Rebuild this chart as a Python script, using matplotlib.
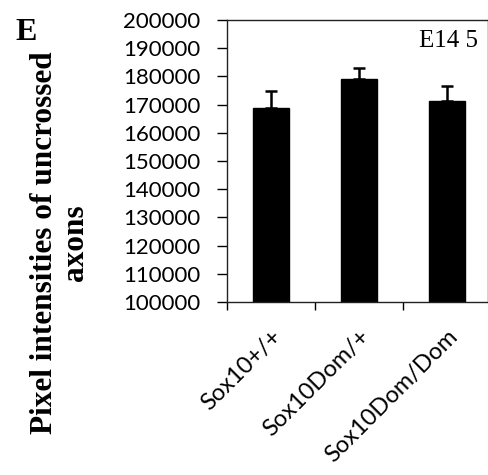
import matplotlib
matplotlib.use("Agg")
import matplotlib.pyplot as plt

# Pixel intensities of uncrossed axons at E14.5 by genotype
genotypes = ["Sox10+/+", "Sox10Dom/+", "Sox10Dom/Dom"]
means = [168900, 179100, 171400]
upper_err = [6000, 3900, 5200]
y_ticks = list(range(100000, 200001, 10000))

fig = plt.figure(figsize=(4.89, 4.75), dpi=100)
ax = fig.add_axes([227 / 489, 1 - 302 / 475, 261 / 489, 282 / 475])

x = list(range(len(genotypes)))
ax.bar(x, means, width=0.41, color="black", edgecolor="black", zorder=2)
ax.errorbar(x, means, yerr=[[0] * len(means), upper_err], fmt="none",
            ecolor="black", elinewidth=1.8, capsize=4, capthick=1.8, zorder=3)

ax.set_xlim(-0.5, 2.47)
ax.set_ylim(100000, 200000)
ax.set_yticks(y_ticks)
ax.set_yticklabels([str(v) for v in y_ticks], family="Lato", fontsize=16)

# category boundary ticks on the x axis, labels under each bar
ax.set_xticks([-0.5, 0.5, 1.5], minor=False)
ax.set_xticklabels([])
ax.tick_params(axis="x", which="major", direction="out", length=6, width=1)
ax.set_xticks(x, minor=True)
ax.set_xticklabels(genotypes, minor=True, rotation=45, ha="right", va="top",
                   rotation_mode="anchor", family="Lato", fontsize=17)
ax.tick_params(axis="x", which="minor", length=0, pad=17)
ax.tick_params(axis="y", direction="out", length=7, width=1, pad=12)

for s in ax.spines.values():
    s.set_linewidth(1)
    s.set_color("#222222")

ax.text(0.96, 0.925, "E14 5", transform=ax.transAxes, ha="right", va="center",
        family="Liberation Serif", fontsize=18)

fig.text(26 / 489, 1 - 32 / 475, "E", ha="center", va="center",
         family="Liberation Serif", fontweight="bold", fontsize=23)
fig.text(60 / 489, 1 - 243 / 475, "Pixel intensities of uncrossed\naxons",
         rotation=90, ha="center", va="center", multialignment="center",
         family="Liberation Serif", fontweight="bold", fontsize=22.5,
         linespacing=1.1)

fig.savefig("out.png", dpi=100)
